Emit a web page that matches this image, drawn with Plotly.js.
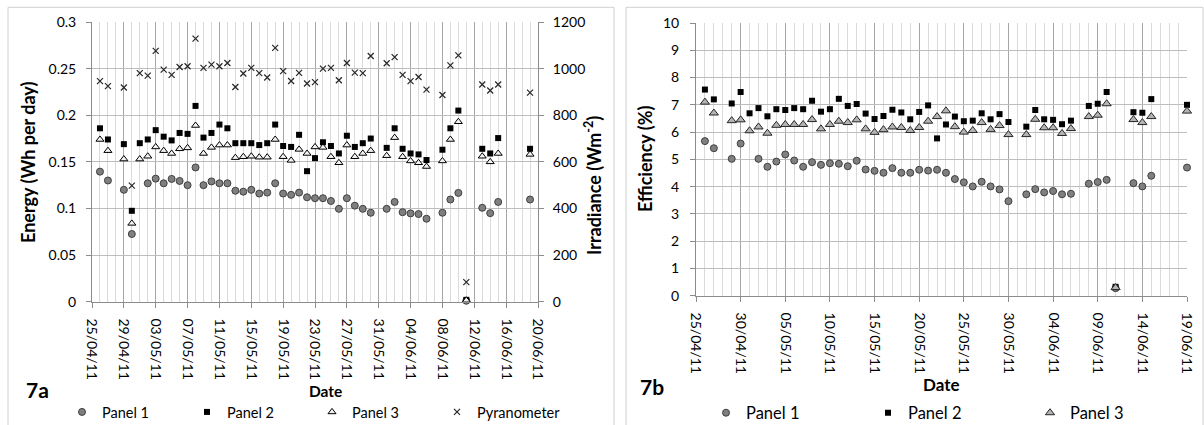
<!DOCTYPE html>
<html>
<head>
<meta charset="utf-8">
<script src="https://cdn.plot.ly/plotly-3.0.1.min.js"></script>
<style>html,body{margin:0;padding:0;background:#fff;}#chart{width:1204px;height:425px;}</style>
</head>
<body>
<div id="chart"></div>
<script>
// ---------- data ----------
const dates = ['2011-04-26','2011-04-27','2011-04-29','2011-04-30',
 '2011-05-01','2011-05-02','2011-05-03','2011-05-04','2011-05-05','2011-05-06','2011-05-07','2011-05-08','2011-05-09','2011-05-10',
 '2011-05-11','2011-05-12','2011-05-13','2011-05-14','2011-05-15','2011-05-16','2011-05-17','2011-05-18','2011-05-19','2011-05-20',
 '2011-05-21','2011-05-22','2011-05-23','2011-05-24','2011-05-25','2011-05-26','2011-05-27','2011-05-28','2011-05-29','2011-05-30',
 '2011-06-01','2011-06-02','2011-06-03','2011-06-04','2011-06-05','2011-06-06',
 '2011-06-08','2011-06-09','2011-06-10','2011-06-11',
 '2011-06-13','2011-06-14','2011-06-15','2011-06-19'];

// 7a: energy (Wh per day)
const energyPanel1 = [0.1395,0.130,0.120,0.0726,
 null,0.127,0.132,0.127,0.1317,0.1295,0.125,0.144,0.125,0.129,
 0.127,0.127,0.119,0.118,0.120,0.116,0.117,0.127,0.116,0.1146,
 0.117,0.112,0.111,0.111,0.108,0.0996,0.111,0.103,0.0996,0.0954,
 0.0996,0.107,0.096,0.0947,0.094,0.089,
 0.0954,0.1096,0.1167,0.001,
 0.1007,0.095,0.107,0.1096];
const energyPanel2 = [0.186,0.174,0.169,0.0975,
 0.170,0.174,0.184,0.177,0.173,0.181,0.180,0.210,0.176,0.181,
 0.190,0.186,0.170,0.170,0.170,0.168,0.170,0.190,0.167,0.166,
 0.179,0.140,0.154,0.171,0.167,0.159,0.178,0.166,0.170,0.175,
 0.165,0.186,0.164,0.159,0.158,0.152,
 0.163,0.186,0.205,0.002,
 0.164,0.159,0.1755,0.164];
const energyPanel3 = [0.174,0.162,0.153,0.084,
 0.153,0.156,0.166,0.162,0.159,0.164,0.165,0.189,0.159,0.1655,
 0.168,0.168,0.1545,0.1555,0.156,0.155,0.155,0.174,0.1555,0.1516,
 0.1634,0.159,0.166,0.1655,0.1555,0.149,0.168,0.1555,0.159,0.162,
 0.1566,0.176,0.1555,0.151,0.149,0.145,
 0.151,0.174,0.193,0.0015,
 0.156,0.150,0.159,0.158];
const irradiance = [946,925,919,498,
 981,970,1076,996,973,1007,1010,1129,1003,1017,
 1010,1024,921,979,1003,981,962,1089,989,947,
 982,936,942,1000,1003,950,1024,983,981,1054,
 1023,1049,973,946,964,910,
 887,1014,1057,84,
 932,906,932,897];

// 7b: efficiency (%)
const effPanel1 = [5.67,5.41,5.02,5.58,
 null,5.02,4.73,4.92,5.18,4.96,4.73,4.90,4.80,4.86,
 4.84,4.75,4.95,4.63,4.58,4.51,4.68,4.51,4.51,4.62,
 4.59,4.62,4.51,4.28,4.16,4.01,4.18,4.01,3.90,3.47,
 3.72,3.91,3.79,3.84,3.72,3.74,
 4.11,4.17,4.25,0.28,
 4.13,4.01,4.40,4.70];
const effPanel2 = [7.56,7.20,7.05,7.47,
 6.69,6.88,6.58,6.84,6.81,6.88,6.84,7.15,6.75,6.84,
 7.22,6.96,7.03,6.68,6.48,6.59,6.82,6.72,6.47,6.74,
 6.98,5.77,6.28,6.57,6.40,6.42,6.69,6.47,6.66,6.37,
 6.20,6.81,6.47,6.45,6.29,6.42,
 6.96,7.04,7.47,0.33,
 6.73,6.71,7.21,7.00];
const effPanel3 = [7.10,6.70,6.42,6.45,
 6.05,6.19,5.96,6.25,6.28,6.28,6.28,6.46,6.12,6.28,
 6.40,6.35,6.45,6.12,5.99,6.09,6.19,6.17,6.06,6.17,
 6.40,6.57,6.78,6.20,6.00,6.06,6.35,6.10,6.24,5.91,
 5.91,6.47,6.16,6.16,5.95,6.13,
 6.57,6.62,7.04,0.30,
 6.46,6.35,6.57,6.77];

// tick labels
const ticksA = ['2011-04-25','2011-04-29','2011-05-03','2011-05-07','2011-05-11','2011-05-15','2011-05-19','2011-05-23','2011-05-27','2011-05-31','2011-06-04','2011-06-08','2011-06-12','2011-06-16','2011-06-20'];
const tickTextA = ['25/04/11','29/04/11','03/05/11','07/05/11','11/05/11','15/05/11','19/05/11','23/05/11','27/05/11','31/05/11','04/06/11','08/06/11','12/06/11','16/06/11','20/06/11'];
const ticksB = ['2011-04-25','2011-04-30','2011-05-05','2011-05-10','2011-05-15','2011-05-20','2011-05-25','2011-05-30','2011-06-04','2011-06-09','2011-06-14','2011-06-19'];
const tickTextB = ['25/04/11','30/04/11','05/05/11','10/05/11','15/05/11','20/05/11','25/05/11','30/05/11','04/06/11','09/06/11','14/06/11','19/06/11'];

// ---------- layout helpers ----------
const W = 1204, H = 425;
const px = x => x / W;
const py = y => 1 - y / H;
const AX = '#8c8c8c';
const DAY = 86400000;

const circleM = {symbol:'circle', size:7, color:'#7f7f7f', line:{color:'#404040', width:1}};
const squareM = {symbol:'square', size:6, color:'#000000', line:{color:'#000000', width:0}};
const triA = {symbol:'triangle-up', size:7, color:'#f2f2f2', line:{color:'#000000', width:1}};
const triB = {symbol:'triangle-up', size:8, color:'#b3b3b3', line:{color:'#262626', width:1}};
const crossM = {symbol:'x-thin-open', size:6, color:'#262626', line:{color:'#262626', width:1.2}};

const traces = [
 {x:dates, y:energyPanel1, name:'Panel 1', type:'scatter', mode:'markers', marker:circleM, xaxis:'x', yaxis:'y', cliponaxis:false, legend:'legend'},
 {x:dates, y:energyPanel2, name:'Panel 2', type:'scatter', mode:'markers', marker:squareM, xaxis:'x', yaxis:'y', cliponaxis:false, legend:'legend'},
 {x:dates, y:energyPanel3, name:'Panel 3', type:'scatter', mode:'markers', marker:triA, xaxis:'x', yaxis:'y', cliponaxis:false, legend:'legend'},
 {x:dates, y:irradiance, name:'Pyranometer', type:'scatter', mode:'markers', marker:crossM, xaxis:'x', yaxis:'y2', cliponaxis:false, legend:'legend'},
 {x:dates, y:effPanel1, name:'Panel 1', type:'scatter', mode:'markers', marker:circleM, xaxis:'x2', yaxis:'y3', cliponaxis:false, legend:'legend2'},
 {x:dates, y:effPanel2, name:'Panel 2', type:'scatter', mode:'markers', marker:squareM, xaxis:'x2', yaxis:'y3', cliponaxis:false, legend:'legend2'},
 {x:dates, y:effPanel3, name:'Panel 3', type:'scatter', mode:'markers', marker:triB, xaxis:'x2', yaxis:'y3', cliponaxis:false, legend:'legend2'}
];

const tickFont = {family:'Lato', size:14, color:'#000'};
const xTickFont = {family:'Lato', size:14, color:'#000'};
function xAx(dom, anchor, range, tv, tt){
  return {type:'date', domain:dom, anchor:anchor, range:range, tickmode:'array', tickvals:tv, ticktext:tt,
    tickangle:90, ticks:'outside', ticklen:5, tickcolor:AX, showline:true, linecolor:AX, linewidth:1,
    showgrid:true, gridcolor:'#a6a6a6', gridwidth:1, zeroline:false, tickfont:xTickFont, ticklabelstandoff:8, fixedrange:true,
    minor:{tickmode:'linear', tick0:'2011-04-25', dtick:DAY, showgrid:true, gridcolor:'#dadada', gridwidth:1, ticks:''}};
}
function ann(text, x, y, size, angle){
  const a = {text:text, x:px(x), y:py(y), xref:'paper', yref:'paper', xanchor:'center', yanchor:'middle',
    showarrow:false, font:{family:'Lato', size:size, color:'#000'}};
  if (angle) a.textangle = angle;
  return a;
}

const layout = {
  width:W, height:H, margin:{l:0, r:0, t:0, b:0, autoexpand:false},
  paper_bgcolor:'#fff', plot_bgcolor:'#fff',
  font:{family:'Lato', color:'#000'},
  xaxis: xAx([px(92), px(538)], 'y', ['2011-04-25','2011-06-20'], ticksA, tickTextA),
  yaxis: {domain:[py(301.7), py(22)], anchor:'x', range:[0,0.3], dtick:0.05, tick0:0,
    ticks:'outside', ticklen:5, tickcolor:AX, showline:true, linecolor:AX, showgrid:true, gridcolor:'#bdbdbd',
    zeroline:false, tickfont:tickFont, ticklabelstandoff:7},
  yaxis2: {overlaying:'y', side:'right', anchor:'x', range:[0,1200], dtick:200, tick0:0,
    ticks:'outside', ticklen:5, tickcolor:AX, showline:true, linecolor:AX, showgrid:false, zeroline:false, tickfont:tickFont, ticklabelstandoff:6},
  xaxis2: xAx([px(696), px(1187)], 'y3', ['2011-04-25','2011-06-19'], ticksB, tickTextB),
  yaxis3: {domain:[py(295.8), py(23)], anchor:'x2', range:[0,10], dtick:1, tick0:0,
    ticks:'outside', ticklen:5, tickcolor:AX, showline:true, linecolor:AX, showgrid:true, gridcolor:'#bdbdbd',
    zeroline:false, tickfont:tickFont, ticklabelstandoff:8},
  legend: {orientation:'h', x:px(62), y:py(412), xanchor:'left', yanchor:'middle', font:{family:'Lato', size:14.5, color:'#000'},
    entrywidth:80, entrywidthmode:'pixels', bgcolor:'rgba(0,0,0,0)', tracegroupgap:0},
  legend2: {orientation:'h', x:px(706), y:py(413), xanchor:'left', yanchor:'middle', font:{family:'Lato', size:16.5, color:'#000'},
    entrywidth:117, entrywidthmode:'pixels', bgcolor:'rgba(0,0,0,0)', tracegroupgap:0},
  showlegend:true,
  shapes: [
    {type:'rect', xref:'paper', yref:'paper', x0:px(8), x1:px(614), y0:-0.05, y1:py(7.3), line:{color:'#d0d0d0', width:1}, fillcolor:'rgba(0,0,0,0)', layer:'below'},
    {type:'rect', xref:'paper', yref:'paper', x0:px(626), x1:px(1203), y0:-0.05, y1:py(7.3), line:{color:'#d0d0d0', width:1}, fillcolor:'rgba(0,0,0,0)', layer:'below'}
  ],
  annotations: [
    ann('<b>Energy (Wh per day)</b>', 28, 163, 18, -90),
    ann('<b>Irradiance (Wm<sup>-2</sup>)</b>', 593, 186, 18, -90),
    ann('<b>Date</b>', 325, 391, 15.5),
    ann('<b>7a</b>', 37.5, 389, 21),
    ann('<b>Efficiency (%)</b>', 645, 159, 18, -90),
    ann('<b>Date</b>', 941, 384, 17),
    ann('<b>7b</b>', 652, 386, 21)
  ]
};

Plotly.newPlot('chart', traces, layout, {displayModeBar:false, staticPlot:true});
</script>
</body>
</html>
